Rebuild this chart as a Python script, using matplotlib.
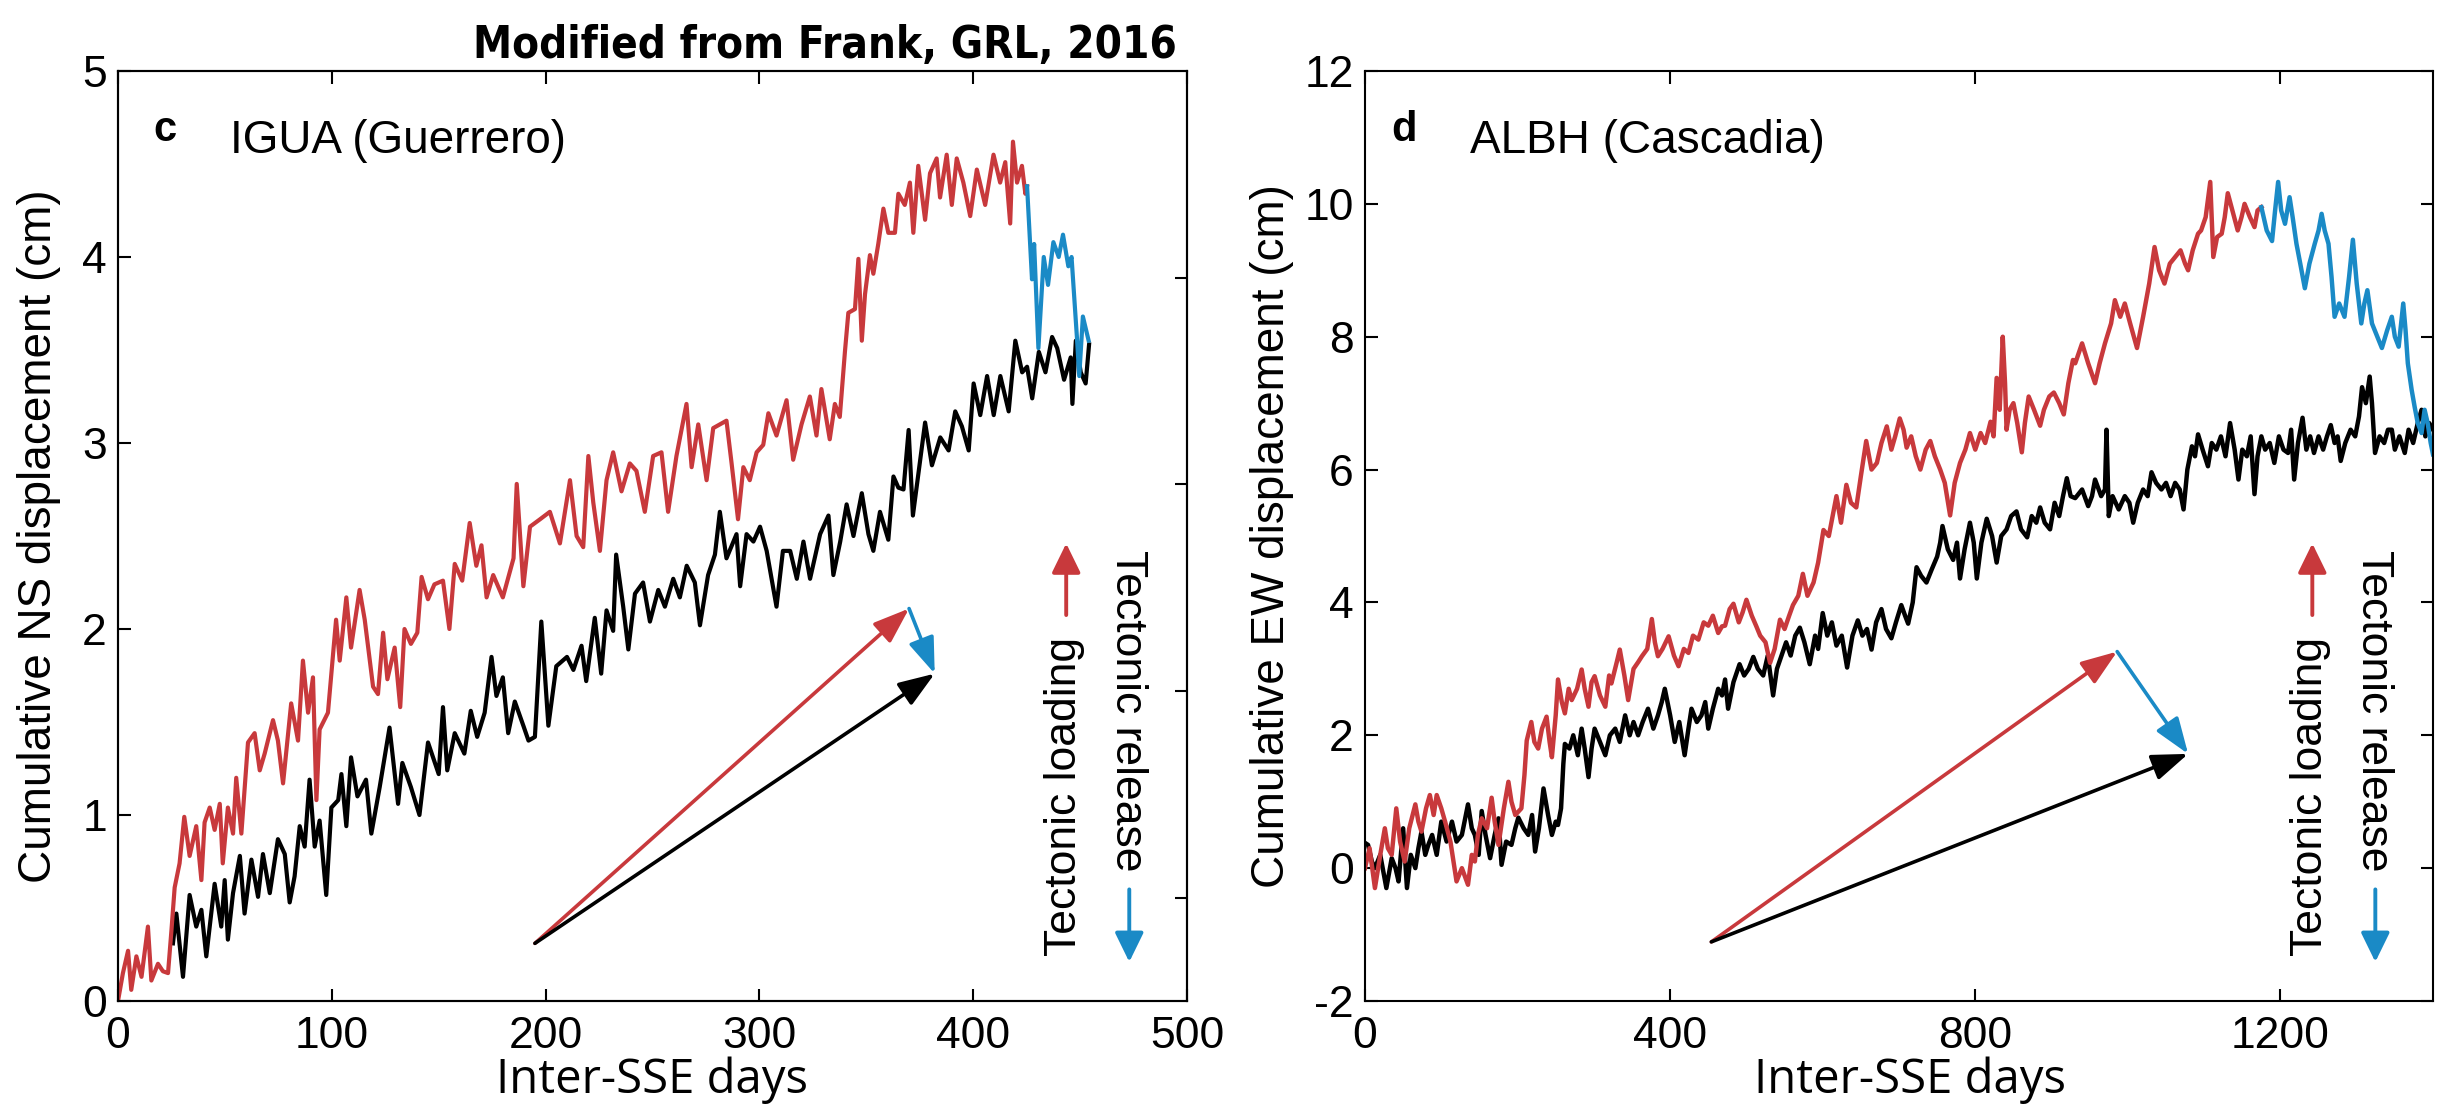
"""
Cumulative displacement at IGUA (Guerrero) and ALBH (Cascadia), after Frank (2016)
"""

import matplotlib
matplotlib.use("Agg")
import matplotlib.pyplot as plt
from matplotlib import font_manager as fm

# ── data ─────────────────────────────────────────────────────────────
# panel c : IGUA, NS component
igua_red_day = [0, 2.3, 4.7, 6.2, 8.6, 11, 14, 15.6, 18.7, 21, 23.4, 25, 26.5, 28.8, 31, 33.5,
                36.6, 39, 40.5, 42.9, 45.2, 47.6, 49, 51.4, 53.8, 55.3, 57.7, 60.8, 63.9, 66.3,
                68.6, 72.5, 74.8, 77.2, 81, 84.2, 86.5, 88.9, 91.2, 92.8, 94.3, 98.2, 102, 103.7,
                106.8, 109, 113, 115.4, 119.3, 121.6, 124, 126, 129.4, 132, 134, 137, 140, 142,
                145, 148, 152, 155, 157.5, 161, 164.5, 167.6, 170, 172.4, 175.5, 180, 185, 186.5,
                189.6, 192.7, 197.4, 202, 206.7, 211.4, 214.5, 217.6, 220, 222.3, 225.4, 228.5,
                231.6, 235.5, 239.4, 242.5, 246.4, 250.3, 254.2, 257.3, 261.2, 265.9, 268.3, 271.4,
                275.3, 278.4, 284.6, 287, 290, 292.5, 295.5, 298.7, 301.8, 304.2, 308, 312.7,
                315.8, 319.7, 323.6, 326.7, 329, 332.9, 335.3, 337.6, 340, 341.6, 344.7, 346.3,
                347.9, 349.4, 351.7, 353.3, 355.6, 358, 360.3, 363.4, 365, 368, 370.4, 372, 374.3,
                377.5, 379.8, 382.9, 384.5, 387.6, 390, 392.3, 395.4, 398.6, 401.7, 405.6, 409.5,
                412.6, 415, 417.3, 418.6, 420.5, 422.8, 424.4, 425.2]
igua_red_cm = [0.0, 0.15, 0.27, 0.06, 0.24, 0.13, 0.4, 0.11, 0.2, 0.16, 0.15, 0.38, 0.61, 0.74, 0.99,
               0.78, 0.94, 0.65, 0.96, 1.04, 0.92, 1.06, 0.74, 1.04, 0.9, 1.2, 0.9, 1.39, 1.44, 1.24,
               1.33, 1.51, 1.4, 1.17, 1.6, 1.4, 1.83, 1.55, 1.74, 1.08, 1.46, 1.55, 2.05, 1.83,
               2.17, 1.9, 2.21, 2.05, 1.69, 1.65, 1.98, 1.73, 1.9, 1.58, 2.0, 1.92, 1.98, 2.28,
               2.16, 2.24, 2.26, 2.0, 2.35, 2.26, 2.57, 2.34, 2.45, 2.17, 2.29, 2.17, 2.38, 2.78,
               2.23, 2.55, 2.59, 2.63, 2.46, 2.8, 2.5, 2.44, 2.93, 2.68, 2.42, 2.8,
               2.95, 2.74, 2.89, 2.85, 2.63, 2.93, 2.95, 2.63, 2.93, 3.21, 2.87, 3.1,
               2.8, 3.08, 3.12, 2.89, 2.59, 2.87, 2.8, 2.95, 2.99, 3.16, 3.04, 3.23,
               2.91, 3.1, 3.25, 3.04, 3.29, 3.02, 3.21, 3.14, 3.49, 3.7, 3.72, 3.99,
               3.55, 3.8, 4.01, 3.91, 4.07, 4.26, 4.13, 4.13, 4.34, 4.28, 4.4, 4.13, 4.49,
               4.2, 4.45, 4.53, 4.32, 4.55, 4.28, 4.53, 4.4, 4.22, 4.47, 4.28, 4.55,
               4.4, 4.51, 4.18, 4.62, 4.4, 4.49, 4.34, 4.38]

igua_blue_day = [425.2, 427.5, 428.5, 430.5, 433, 435, 437.5, 440, 442, 444.5, 446, 448.5, 449.6,
                 451.3, 454]
igua_blue_cm = [4.38, 3.88, 4.07, 3.51, 4.0, 3.85, 4.08, 4.0, 4.12, 3.95, 4.0, 3.57, 3.36, 3.68, 3.55]

igua_black_day = [25.7, 27.3, 30.4, 33.5, 36.6, 39, 41.3, 45.2, 48.3, 49.9, 51.4, 53.8, 57, 59.2,
                  62.4, 65.5, 67.8, 71, 74.8, 78, 80.3, 82.6, 85, 87.3, 89.6, 92, 94.3, 97.4, 99.8,
                  103, 104.5, 106.8, 109, 112, 116, 118.5, 122.4, 127, 131, 133, 137, 141, 145, 150,
                  152, 154, 157.5, 162, 165, 168, 171.5, 174.7, 177, 180, 182.5, 185.6, 189.6, 192,
                  195, 198, 201.3, 205, 210, 213, 216.8, 219, 223, 226, 228.5, 231.6, 233, 236.3,
                  238.7, 241.8, 245.6, 248.8, 252.7, 255.8, 259.7, 262.8, 266, 269.8, 272.2, 276,
                  279.2, 281.5, 284.6, 289.3, 291, 294, 297.2, 300.3, 303.4, 308, 311, 314.4, 317.5,
                  320.6, 323.7, 328.4, 332.3, 334.6, 337.8, 340.8, 344, 347.9, 351, 353.3, 356.4,
                  360.3, 362.7, 365, 367.4, 369.8, 371.8, 374.4, 377.5, 380.7, 384.6, 388.5, 391.6,
                  394.7, 397.9, 400.2, 403.3, 406.5, 409.6, 412.7, 416.6, 419.7, 422.9, 425.2,
                  427.6, 430.7, 433.8, 436.9, 439.3, 442.5, 445.6, 446.4, 448, 450.3, 452.6, 454.2]
igua_black_cm = [0.31, 0.47, 0.13, 0.57, 0.4, 0.49, 0.24, 0.63, 0.4, 0.65, 0.33, 0.58, 0.78, 0.47,
                 0.76, 0.56, 0.79, 0.58, 0.87, 0.79, 0.53, 0.67, 0.94, 0.83, 1.19, 0.83, 0.97, 0.57,
                 1.04, 1.08, 1.22, 0.94, 1.31, 1.1, 1.19, 0.9, 1.15, 1.47, 1.06, 1.28, 1.15, 1.0,
                 1.39, 1.22, 1.58, 1.24, 1.44, 1.33, 1.56, 1.42, 1.55, 1.85, 1.64, 1.74, 1.44, 1.61,
                 1.48, 1.4, 1.42, 2.04, 1.48, 1.8, 1.85, 1.78, 1.91, 1.72, 2.06, 1.76, 2.1, 1.99,
                 2.4, 2.12, 1.89, 2.19, 2.25, 2.04, 2.21, 2.12, 2.27, 2.17, 2.34, 2.25, 2.02, 2.29,
                 2.4, 2.63, 2.38, 2.51, 2.23, 2.51, 2.47, 2.55, 2.42, 2.12, 2.42, 2.42, 2.27, 2.47,
                 2.27, 2.51, 2.61, 2.29, 2.47, 2.67, 2.5, 2.73, 2.51, 2.42, 2.63, 2.48, 2.82, 2.76,
                 2.75, 3.07, 2.61, 2.84, 3.11, 2.88, 3.03, 2.96, 3.17, 3.09, 2.96, 3.32, 3.15, 3.36,
                 3.15, 3.36, 3.17, 3.55, 3.38, 3.41, 3.24, 3.49, 3.38, 3.57, 3.51, 3.34, 3.46, 3.21,
                 3.55, 3.38, 3.32, 3.53]

# panel d : ALBH, EW component
albh_red_day = [0, 6, 13, 20, 26, 30, 35, 41, 46, 52, 58, 66, 70, 74, 80, 85, 90, 94, 100, 105, 112,
                120, 127, 135, 140, 144, 148, 153, 160, 166, 170, 175, 182, 188, 192, 197, 205, 209,
                212, 218, 222, 227, 232, 238, 242, 245, 250, 253, 258, 262, 267, 271, 278, 284, 288,
                293, 297, 301, 308, 315, 320, 323, 330, 334, 340, 345, 352, 358, 363, 370, 376, 380,
                384, 390, 398, 405, 411, 418, 424, 430, 437, 444, 450, 456, 463, 468, 472, 478, 483,
                490, 495, 500, 507, 513, 518, 525, 531, 537, 544, 550, 556, 561, 568, 574, 580, 588,
                594, 601, 608, 613, 618, 624, 631, 637, 644, 650, 657, 664, 671, 677, 684, 690, 695,
                701, 706, 710, 716, 722, 728, 735, 741, 747, 754, 760, 767, 773, 780, 787, 793, 800,
                807, 813, 820, 824, 828, 832, 836, 839, 841, 845, 850, 855, 861, 865, 870, 877, 885,
                890, 897, 903, 910, 916, 922, 928, 931, 940, 948, 957, 963, 970, 978, 983, 990, 996,
                1003, 1012, 1020, 1028, 1035, 1041, 1048, 1055, 1062, 1069, 1075, 1079, 1085, 1092,
                1096, 1102, 1108, 1112, 1117, 1123, 1127, 1131, 1137, 1144, 1149, 1153, 1160, 1166,
                1170, 1175]
albh_red_cm = [0.0, 0.3, -0.3, 0.2, 0.6, 0.3, 0.2, 0.9, 0.4, 0.1, 0.6, 0.96, 0.7, 0.55, 0.9, 1.1,
               0.8, 1.1, 0.9, 0.7, 0.4, -0.2, 0.0, -0.25, 0.2, 0.1, 0.5, 0.75, 0.6, 1.06, 0.7, 0.35,
               0.9, 1.3, 1.0, 0.8, 0.9, 1.4, 1.92, 2.2, 1.9, 1.8, 2.1, 2.28, 1.9, 1.67, 2.3, 2.84,
               2.5, 2.33, 2.7, 2.53, 2.7, 2.99, 2.7, 2.43, 2.8, 2.89, 2.6, 2.43, 2.9, 2.78, 3.1,
               3.29, 2.9, 2.53, 3.0, 3.1, 3.19, 3.3, 3.75, 3.4, 3.19, 3.3, 3.49, 3.2, 3.04, 3.3,
               3.24, 3.5, 3.44, 3.7, 3.65, 3.8, 3.54, 3.64, 3.65, 3.9, 3.98, 3.7, 3.85, 4.04, 3.8,
               3.64, 3.5, 3.4, 3.09, 3.3, 3.74, 3.6, 3.8, 3.96, 4.1, 4.43, 4.1, 4.3, 4.6, 5.09, 5.0,
               5.3, 5.6, 5.2, 5.77, 5.5, 5.43, 5.9, 6.43, 6.0, 6.1, 6.4, 6.65, 6.3, 6.5, 6.77, 6.6,
               6.33, 6.5, 6.2, 6.0, 6.3, 6.43, 6.2, 6.0, 5.8, 5.31, 5.8, 6.1, 6.3, 6.55, 6.3, 6.55,
               6.4, 6.72, 6.5, 7.38, 6.9, 8.0, 7.3, 6.6, 6.9, 7.0, 6.7, 6.26, 6.7, 7.1, 6.9, 6.66,
               6.9, 7.1, 7.16, 7.0, 6.83, 7.3, 7.65, 7.6, 7.9, 7.6, 7.3, 7.6, 7.9, 8.2, 8.55, 8.3,
               8.5, 8.2, 7.83, 8.3, 8.8, 9.35, 9.0, 8.8, 9.1, 9.2, 9.3, 9.1, 9.0, 9.3, 9.55, 9.6,
               9.8, 10.33, 9.2, 9.5, 9.55, 9.8, 10.16, 9.9, 9.6, 9.8, 10.0, 9.8, 9.65, 9.9, 9.95]

albh_blue_day = [1175, 1182, 1189, 1193, 1197, 1201, 1206, 1212, 1216, 1221, 1226, 1232, 1238, 1245,
                 1250, 1254, 1258, 1263, 1267, 1271, 1277, 1284, 1290, 1295, 1300, 1306, 1310, 1314,
                 1320, 1327, 1333, 1340, 1346, 1350, 1355, 1361, 1364, 1367, 1372, 1376, 1380, 1385,
                 1389, 1393, 1397, 1400]
albh_blue_cm = [9.95, 9.6, 9.44, 9.9, 10.33, 9.9, 9.7, 10.1, 9.8, 9.4, 9.1, 8.73, 9.1, 9.4, 9.6,
                9.85, 9.6, 9.4, 8.9, 8.3, 8.5, 8.3, 8.9, 9.46, 8.8, 8.2, 8.5, 8.7, 8.2, 8.0, 7.83,
                8.1, 8.3, 8.0, 7.85, 8.5, 8.1, 7.6, 7.2, 6.94, 6.7, 6.55, 6.9, 6.7, 6.4, 6.23]

albh_black_day = [0, 4, 9, 13, 20, 28, 35, 40, 44, 50, 55, 60, 66, 70, 74, 79, 83, 88, 94, 100, 107,
                  114, 120, 127, 135, 140, 144, 149, 153, 158, 164, 170, 175, 179, 185, 192, 197,
                  201, 208, 214, 219, 223, 228, 234, 240, 245, 250, 253, 257, 260, 262, 268, 273,
                  279, 284, 288, 293, 297, 301, 308, 315, 321, 328, 334, 341, 347, 352, 358, 364,
                  371, 378, 384, 389, 393, 400, 406, 412, 419, 424, 428, 435, 441, 446, 450, 456,
                  463, 468, 472, 476, 483, 491, 497, 503, 509, 515, 522, 528, 535, 540, 546, 552,
                  558, 564, 570, 576, 583, 590, 594, 600, 606, 612, 618, 625, 632, 639, 646, 652,
                  658, 664, 670, 677, 683, 690, 696, 703, 708, 712, 718, 723, 729, 736, 743, 750,
                  754, 757, 764, 771, 776, 780, 786, 793, 798, 802, 808, 815, 822, 828, 834, 841,
                  847, 854, 860, 868, 874, 880, 885, 891, 898, 904, 910, 915, 920, 925, 931, 940,
                  948, 953, 957, 965, 970, 972, 975, 980, 988, 996, 1002, 1007, 1013, 1020, 1026,
                  1031, 1037, 1044, 1050, 1056, 1062, 1068, 1073, 1078, 1084, 1088, 1092, 1098,
                  1105, 1110, 1116, 1122, 1128, 1134, 1140, 1145, 1150, 1156, 1161, 1166, 1170,
                  1175, 1180, 1186, 1192, 1198, 1204, 1210, 1214, 1218, 1223, 1229, 1234, 1239,
                  1244, 1250, 1256, 1261, 1266, 1271, 1275, 1279, 1285, 1292, 1298, 1303, 1307,
                  1312, 1317, 1320, 1324, 1330, 1336, 1341, 1346, 1350, 1356, 1363, 1368, 1374,
                  1380, 1385, 1390, 1395, 1400]
albh_black_cm = [0.38, 0.35, 0.1, 0.0, 0.2, -0.3, 0.15, 0.0, -0.2, 0.6, -0.3, 0.2, 0.0, 0.3, 0.55,
                 0.2, 0.35, 0.5, 0.2, 0.7, 0.4, 0.7, 0.4, 0.5, 0.96, 0.6, 0.5, 0.2, 0.86, 0.5, 0.15,
                 0.5, 0.75, 0.05, 0.4, 0.35, 0.6, 0.76, 0.6, 0.5, 0.8, 0.25, 0.6, 1.2, 0.8, 0.5,
                 0.7, 0.65, 0.9, 1.57, 1.87, 1.8, 2.0, 1.7, 2.1, 1.8, 1.37, 1.8, 2.1, 1.9, 1.7, 2.0,
                 2.1, 1.9, 2.3, 2.0, 2.2, 2.0, 2.2, 2.4, 2.1, 2.3, 2.5, 2.7, 2.3, 1.9, 2.2, 1.7, 2.1,
                 2.4, 2.2, 2.3, 2.5, 2.1, 2.4, 2.7, 2.6, 2.84, 2.4, 2.8, 3.07, 2.9, 3.0, 3.18, 3.0,
                 2.9, 3.2, 2.6, 3.0, 3.2, 3.4, 3.2, 3.5, 3.62, 3.4, 3.07, 3.5, 3.3, 3.84, 3.5, 3.7,
                 3.35, 3.5, 3.02, 3.5, 3.73, 3.5, 3.6, 3.29, 3.7, 3.9, 3.6, 3.46, 3.7, 3.96, 3.8,
                 3.68, 4.0, 4.53, 4.4, 4.3, 4.5, 4.69, 4.9, 5.15, 4.8, 4.64, 4.9, 4.36, 4.8, 5.2,
                 4.9, 4.36, 4.9, 5.26, 5.0, 4.6, 5.0, 5.1, 5.3, 5.37, 5.1, 4.98, 5.3, 5.2, 5.43,
                 5.2, 5.1, 5.5, 5.3, 5.6, 5.87, 5.6, 5.57, 5.7, 5.45, 5.6, 5.85, 5.6, 5.7, 6.6, 5.3,
                 5.6, 5.4, 5.6, 5.5, 5.2, 5.5, 5.7, 5.6, 5.96, 5.8, 5.7, 5.8, 5.6, 5.8, 5.7, 5.4,
                 6.0, 6.35, 6.2, 6.53, 6.3, 6.05, 6.4, 6.3, 6.5, 6.2, 6.7, 6.3, 5.85, 6.3, 6.2, 6.5,
                 5.63, 6.2, 6.5, 6.3, 6.4, 6.1, 6.5, 6.3, 6.25, 6.6, 5.85, 6.4, 6.78, 6.3, 6.5,
                 6.25, 6.5, 6.3, 6.5, 6.67, 6.4, 6.5, 6.13, 6.4, 6.6, 6.5, 6.8, 7.24, 7.0, 7.4, 7.0,
                 6.25, 6.5, 6.4, 6.6, 6.6, 6.3, 6.5, 6.25, 6.6, 6.4, 6.7, 6.9, 6.5, 6.7, 6.6]

# loading / release vectors: (day, cm) of start, loading tip, net tip
igua_vec = [(195, 0.31), (370, 2.11), (382, 1.76)]
albh_vec = [(454, -1.11), (986, 3.26), (1079, 1.72)]

# ── style ────────────────────────────────────────────────────────────
RED = "#c8393c"
BLUE = "#1a8ac6"
SANS = "Liberation Sans"

# title is set in a bold condensed face if one is installed
title_prop = fm.FontProperties(family=SANS, weight="bold", size=33)
for f in fm.fontManager.ttflist:
    if f.stretch in ("condensed", "semi-condensed") and f.weight in ("bold", 700):
        title_prop = fm.FontProperties(fname=f.fname, size=31.5)
        break

plt.rcParams.update({
    "font.family": [SANS, "DejaVu Sans"],
    "font.size": 32,
    "axes.linewidth": 1.5,
    "axes.unicode_minus": False,
})

W, H = 2437, 1113
fig = plt.figure(figsize=(W / 100, H / 100), dpi=100)
ax_c = fig.add_axes([118 / W, 112 / H, 1069 / W, 930 / H])
ax_d = fig.add_axes([1365 / W, 112 / H, 1068 / W, 930 / H])


def style_axes(ax):
    ax.tick_params(direction="in", length=9, width=1.5, top=True, labelsize=32, pad=8)
    ax.tick_params(axis="x", pad=11)


def draw_vectors(ax, vec):
    start, load_tip, net_tip = vec
    head = dict(arrowstyle="-|>,head_length=0.55,head_width=0.2", mutation_scale=40,
                lw=2.6, shrinkA=0, shrinkB=0)
    ax.annotate("", xy=load_tip, xytext=start, arrowprops=dict(color=RED, **head))
    ax.annotate("", xy=net_tip, xytext=start, arrowprops=dict(color="black", **head))
    ax.annotate("", xy=net_tip, xytext=load_tip, arrowprops=dict(color=BLUE, **head))


def draw_legend_text(ax):
    tr = ax.transAxes
    ax.text(0.885, 0.22, "Tectonic loading", rotation=90, ha="center", va="center",
            fontsize=32, transform=tr)
    ax.text(0.944, 0.312, "Tectonic release", rotation=270, ha="center", va="center",
            fontsize=32, transform=tr)
    big = dict(arrowstyle="-|>,head_length=0.45,head_width=0.22", mutation_scale=40,
               lw=2.8, shrinkA=0, shrinkB=0)
    ax.annotate("", xy=(0.887, 0.492), xytext=(0.887, 0.415), xycoords=tr, textcoords=tr,
                arrowprops=dict(color=RED, **big))
    ax.annotate("", xy=(0.946, 0.042), xytext=(0.946, 0.12), xycoords=tr, textcoords=tr,
                arrowprops=dict(color=BLUE, **big))


# ── panel c ──────────────────────────────────────────────────────────
ax_c.plot(igua_black_day, igua_black_cm, color="black", lw=3)
ax_c.plot(igua_red_day, igua_red_cm, color=RED, lw=3)
ax_c.plot(igua_blue_day, igua_blue_cm, color=BLUE, lw=3)
ax_c.set_xlim(0, 500)
ax_c.set_ylim(0, 5)
ax_c.set_xticks(range(0, 501, 100))
ax_c.set_yticks(range(0, 6))
style_axes(ax_c)
draw_vectors(ax_c, igua_vec)
draw_legend_text(ax_c)

# unlabeled right axis with its own scale
twin = ax_c.twinx()
twin.set_ylim(-0.5, 4.0)
twin.set_yticks(range(0, 4))
twin.tick_params(direction="in", length=9, width=1.5, labelright=False)

ax_c.text(0.033, 0.925, "c", fontsize=30, fontweight="bold", transform=ax_c.transAxes)
ax_c.text(0.105, 0.912, "IGUA (Guerrero)", fontsize=33, transform=ax_c.transAxes)
ax_c.text(-0.074, 0.5, "Cumulative NS displacement (cm)", rotation=90, ha="center",
          va="center", fontsize=33, transform=ax_c.transAxes)
ax_c.text(0.5, -0.085, "Inter-SSE days", ha="center", va="center", fontsize=34,
          family=["Open Sans", "DejaVu Sans"], transform=ax_c.transAxes)

# ── panel d ──────────────────────────────────────────────────────────
ax_d.plot(albh_black_day, albh_black_cm, color="black", lw=3.2)
ax_d.plot(albh_red_day, albh_red_cm, color=RED, lw=3.2)
ax_d.plot(albh_blue_day, albh_blue_cm, color=BLUE, lw=3.2)
ax_d.set_xlim(0, 1400)
ax_d.set_ylim(-2, 12)
ax_d.set_xticks(range(0, 1201, 400))
ax_d.set_yticks(range(-2, 13, 2))
style_axes(ax_d)
ax_d.tick_params(right=True)
draw_vectors(ax_d, albh_vec)
draw_legend_text(ax_d)

ax_d.text(0.025, 0.925, "d", fontsize=30, fontweight="bold", transform=ax_d.transAxes)
ax_d.text(0.098, 0.912, "ALBH (Cascadia)", fontsize=33, transform=ax_d.transAxes)
ax_d.text(-0.087, 0.5, "Cumulative EW displacement (cm)", rotation=90, ha="center",
          va="center", fontsize=33, transform=ax_d.transAxes)
ax_d.text(0.51, -0.085, "Inter-SSE days", ha="center", va="center", fontsize=34,
          family=["Open Sans", "DejaVu Sans"], transform=ax_d.transAxes)

fig.text(825 / W, 1 - 58 / H, "Modified from Frank, GRL, 2016", ha="center", va="baseline",
         fontproperties=title_prop)

fig.savefig("out.png", dpi=100)
